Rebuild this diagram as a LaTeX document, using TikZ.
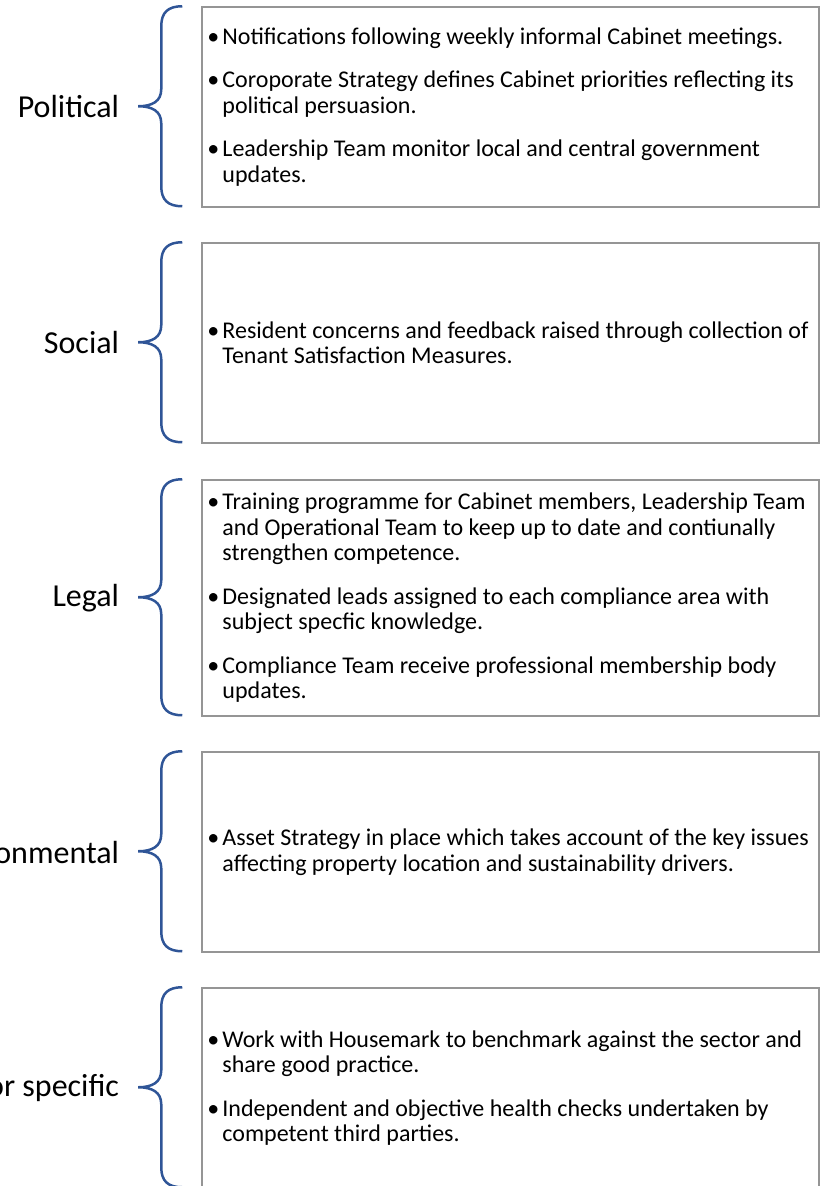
\documentclass[tikz,border=0pt]{standalone}
\usepackage{fontspec}
\setmainfont{Carlito}
\usetikzlibrary{positioning}
\definecolor{bracecol}{HTML}{2F5597}
\definecolor{boxline}{HTML}{959595}
\newcommand{\bul}{\makebox[15pt][l]{\textbullet}}
\newcommand{\cont}{\hspace*{15pt}}
\begin{document}
\begin{tikzpicture}[x=1pt,y=1pt,
	box/.style={draw=boxline, line width=1.5pt, minimum width=617pt, inner sep=0pt},
	txt/.style={anchor=west, align=left, inner sep=0pt, font=\fontsize{24}{25.5}\selectfont},
	lbl/.style={inner sep=0pt, font=\fontsize{32}{36}\selectfont},
	pics/curly/.style={code={\draw[bracecol, line width=2.5pt] (0,0) .. controls (-14,0) and (-21,-6) .. (-21,-20) -- (-21,{-#1+17}) .. controls (-21,{-#1+5}) and (-30,-#1) .. (-44,-#1) .. controls (-30,-#1) and (-21,{-#1-5}) .. (-21,{-#1-17}) -- (-21,{-2*#1+20}) .. controls (-21,{-2*#1+6}) and (-14,{-2*#1}) .. (0,{-2*#1});}}]
	\useasboundingbox (0,0) rectangle (820,-1186);

	\node[box, minimum height=200pt] (pol) at (510.5,-107) {};
	\node[txt] (polT) at ([xshift=6pt]pol.west) {\bul Notifications following weekly informal Cabinet meetings.\\[18pt]
		\bul Coroporate Strategy defines Cabinet priorities reflecting its\\ \cont political persuasion.\\[18pt]
		\bul Leadership Team monitor local and central government\\ \cont updates.};
	\node[lbl, left=82pt of pol] (polL) {Political};
	\pic at ([xshift=-19pt]pol.north west) {curly=100};

	\node[box, minimum height=200pt] (soc) at (510.5,-343) {};
	\node[txt] (socT) at ([xshift=6pt]soc.west) {\bul Resident concerns and feedback raised through collection of\\ \cont Tenant Satisfaction Measures.};
	\node[lbl, left=82pt of soc] (socL) {Social};
	\pic at ([xshift=-19pt]soc.north west) {curly=100};

	\node[box, minimum height=236pt] (leg) at (510.5,-598) {};
	\node[txt] (legT) at ([xshift=6pt]leg.west) {\bul Training programme for Cabinet members, Leadership Team\\ \cont and Operational Team to keep up to date and contiunally\\ \cont strengthen competence.\\[18pt]
		\bul Designated leads assigned to each compliance area with\\ \cont subject specfic knowledge.\\[18pt]
		\bul Compliance Team receive professional membership body\\ \cont updates.};
	\node[lbl, left=82pt of leg] (legL) {Legal};
	\pic at ([xshift=-19pt]leg.north west) {curly=118};

	\node[box, minimum height=200pt] (env) at (510.5,-852) {};
	\node[txt] (envT) at ([xshift=6pt]env.west) {\bul Asset Strategy in place which takes account of the key issues\\ \cont affecting property location and sustainability drivers.};
	\node[lbl, left=82pt of env] (envL) {Environmental};
	\pic at ([xshift=-19pt]env.north west) {curly=100};

	\node[box, minimum height=200pt] (sec) at (510.5,-1088) {};
	\node[txt] (secT) at ([xshift=6pt]sec.west) {\bul Work with Housemark to benchmark against the sector and\\ \cont share good practice.\\[18pt]
		\bul Independent and objective health checks undertaken by\\ \cont competent third parties.};
	\node[lbl, left=82pt of sec] (secL) {Sector specific};
	\pic at ([xshift=-19pt]sec.north west) {curly=100};
\end{tikzpicture}
\end{document}
